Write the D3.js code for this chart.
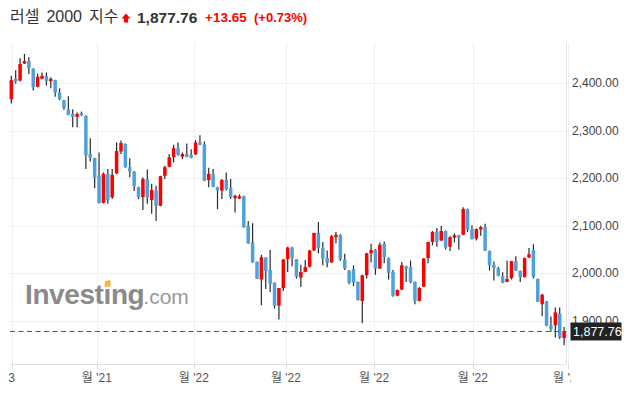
<!DOCTYPE html>
<html>
<head>
<meta charset="utf-8">
<script src="https://cdn.jsdelivr.net/npm/d3@7"></script>
<style>
  body { margin: 0; background: #fff; }
  svg text { font-family: "Liberation Sans", Arial, "Noto Sans CJK KR", sans-serif; }
</style>
</head>
<body>
<script>
// Russell 2000, daily candles
var opens  = [2366,2409,2405,2441,2446,2430,2392,2409,2415,2404,2406,2380,2364,2345,2335,2329,2337,2331,2251,2242,
              2205,2148,2209,2160,2210,2256,2272,2223,2214,2181,2160,2198,2154,2174,2142,2205,2224,2244,2263,2245,
              2251,2249,2250,2275,2271,2196,2208,2181,2174,2196,2179,2158,2157,2162,2100,2065,2024,1987,2033,2007,
              1980,1932,1969,2030,2054,2030,1991,2003,2014,2048,2085,2053,2032,2023,2076,2081,2029,2005,2009,1982,
              1942,1996,2042,2049,2010,2062,2032,2003,1953,1966,2015,2013,1982,1942,1972,2032,2066,2087,2069,2089,
              2056,2075,2080,2081,2135,2093,2073,2092,2097,2047,2018,2011,1994,1982,1990,2026,2005,1992,2033,2049,
              1988,1935,1941,1891,1891,1915,1864];
var highs  = [2415,2427,2452,2461,2454,2431,2420,2422,2422,2412,2407,2389,2365,2372,2345,2338,2340,2332,2284,2243,
              2254,2212,2219,2219,2275,2279,2273,2242,2215,2182,2202,2218,2188,2184,2205,2226,2251,2270,2275,2254,
              2273,2261,2280,2290,2277,2222,2219,2182,2198,2212,2198,2165,2166,2163,2110,2105,2025,2039,2034,2049,
              1981,1969,2030,2056,2056,2030,2018,2028,2049,2085,2108,2066,2048,2081,2087,2082,2041,2007,2017,1983,
              1997,2043,2062,2051,2065,2067,2033,2007,1966,2024,2016,2027,1983,1971,2032,2066,2089,2095,2100,2090,
              2078,2084,2081,2139,2136,2101,2094,2100,2104,2048,2025,2014,2002,2027,2026,2036,2006,2033,2053,2061,
              1989,1957,1942,1909,1928,1928,1887];
var lows   = [2357,2399,2403,2440,2419,2384,2391,2408,2395,2389,2371,2364,2344,2332,2307,2307,2331,2219,2235,2179,
              2147,2147,2146,2156,2209,2251,2222,2202,2173,2156,2133,2146,2125,2110,2141,2198,2223,2233,2247,2240,
              2244,2242,2249,2269,2194,2181,2181,2135,2156,2174,2156,2128,2156,2096,2062,2022,1988,1933,1967,1961,
              1926,1903,1963,2003,2015,1989,1971,2002,2012,2047,2042,2017,2013,2022,2063,2026,2007,1977,1973,1943,
              1895,1989,2023,1997,2009,2021,1987,1951,1952,1965,1982,1979,1935,1941,1971,2021,2059,2056,2068,2050,
              2047,2065,2050,2080,2087,2071,2069,2079,2047,2006,1985,1994,1979,1981,1987,2005,1982,1991,2032,1989,
              1940,1910,1889,1877,1865,1862,1849];
var closes = [2406,2403,2440,2446,2431,2392,2413,2415,2404,2409,2380,2366,2347,2333,2329,2335,2332,2248,2243,2201,
              2148,2209,2154,2207,2257,2274,2223,2214,2183,2160,2198,2160,2175,2142,2204,2223,2244,2263,2249,2251,
              2245,2243,2275,2270,2195,2209,2182,2174,2196,2177,2160,2163,2162,2097,2063,2023,1989,2034,2005,1978,
              1932,1969,2029,2054,2032,1993,2003,2013,2048,2085,2053,2031,2022,2078,2081,2029,2010,1980,1980,1944,
              1996,2042,2049,2010,2060,2034,2001,1953,1965,2017,2010,1981,1942,1969,2031,2066,2087,2066,2089,2054,
              2076,2080,2075,2135,2092,2072,2093,2097,2048,2017,2011,1995,1981,1988,2026,2006,1992,2032,2040,1993,
              1940,1955,1890,1883,1918,1865,1877.76];

var priceTicks = [1900, 2000, 2100, 2200, 2300, 2400];
var timeTicks  = [0.05, 19.5, 41.6, 62.6, 82.7, 105.2, 126.9];   // candle index of each month line
var timeLabels = ["3", "월 '21", "월 '22", "월 '22", "월 '22", "월 '22", "월 '22"];

var lastPrice = 1877.76;
var change = "+13.65";
var changePct = "(+0.73%)";

var upColor = "#ff0000", downColor = "#4fa1db";

var width = 632, height = 396;
var plot = {left: 10, right: 566.5, top: 43, bottom: 364};

var svg = d3.select("body").append("svg")
  .attr("width", width)
  .attr("height", height);

svg.append("rect").attr("width", width).attr("height", height).attr("fill", "#fff");

var x = d3.scaleLinear().domain([0, closes.length - 1]).range([11.3, 564.1]);
var y = d3.scaleLinear().domain([1900, 2400]).range([320.9, 83]);

// --- header
var head = svg.append("g");
head.append("text").attr("x", 10).attr("y", 22)
  .attr("font-size", 16).attr("fill", "#333")
  .attr("word-spacing", 2.5)
  .text("러셀 2000 지수");
head.append("path")
  .attr("d", "M126,13.5 L130.5,18.5 L128,18.5 L128,22.5 L124,22.5 L124,18.5 L121.5,18.5 Z")
  .attr("fill", upColor);
head.append("text").attr("x", 137).attr("y", 22.5)
  .attr("font-size", 15.5).attr("font-weight", "bold").attr("fill", "#333")
  .text(d3.format(",.2f")(lastPrice));
head.append("text").attr("x", 205).attr("y", 22)
  .attr("font-size", 13.5).attr("font-weight", "bold").attr("fill", upColor)
  .text(change);
head.append("text").attr("x", 254).attr("y", 22)
  .attr("font-size", 13).attr("font-weight", "bold").attr("fill", upColor)
  .text(changePct);

// --- grid
svg.append("g").selectAll("line")
  .data(priceTicks)
  .enter().append("line")
  .attr("x1", plot.left).attr("x2", plot.right + 4)
  .attr("y1", d => Math.round(y(d)) + 0.5).attr("y2", d => Math.round(y(d)) + 0.5)
  .attr("stroke", "#f1f1f3");

svg.append("g").selectAll("line")
  .data(timeTicks)
  .enter().append("line")
  .attr("x1", d => Math.round(x(d)) + 0.5).attr("x2", d => Math.round(x(d)) + 0.5)
  .attr("y1", plot.top).attr("y2", plot.bottom + 5)
  .attr("stroke", "#f1f1f3");

// --- watermark
var wm = svg.append("g");
var inv = wm.append("text").attr("x", 25).attr("y", 303.5)
  .attr("font-size", 28).attr("font-weight", "bold").attr("fill", "#8a8a8a")
  .attr("letter-spacing", -0.4)
  .text("Investıng");
var invW = inv.node().getComputedTextLength();
wm.append("text").attr("x", 25 + invW - 1).attr("y", 303.5)
  .attr("font-size", 21).attr("fill", "#9a9a9a")
  .text(".com");
var dotX = 25 + inv.node().getSubStringLength(0, 6);
wm.append("path")
  .attr("d", "M" + (dotX + 1.5) + ",281 L" + (dotX + 7) + ",280 L" + (dotX + 7) + ",286.5 L" + (dotX + 1) + ",287 Z")
  .attr("fill", "#f8b640");

// --- axes lines
svg.append("line")
  .attr("x1", plot.right).attr("x2", plot.right)
  .attr("y1", plot.top).attr("y2", plot.bottom)
  .attr("stroke", "#e1e1e8");
svg.append("line")
  .attr("x1", plot.left).attr("x2", plot.right)
  .attr("y1", plot.bottom + 0.5).attr("y2", plot.bottom + 0.5)
  .attr("stroke", "#e1e1e8");

// --- candles
var idx = d3.range(closes.length);
var bodyW = 3.5;
var candles = svg.append("g");

candles.selectAll("line.wick")
  .data(idx)
  .enter().append("line")
  .attr("class", "wick")
  .attr("x1", i => x(i)).attr("x2", i => x(i))
  .attr("y1", i => y(highs[i])).attr("y2", i => y(lows[i]))
  .attr("stroke", "#262a2e").attr("stroke-width", 1.2);

candles.selectAll("rect.body")
  .data(idx)
  .enter().append("rect")
  .attr("class", "body")
  .attr("x", i => x(i) - bodyW / 2)
  .attr("width", bodyW)
  .attr("y", i => y(Math.max(opens[i], closes[i])))
  .attr("height", i => Math.max(1.5, Math.abs(y(opens[i]) - y(closes[i]))))
  .attr("fill", i => closes[i] >= opens[i] ? upColor : downColor);

// --- last price dashed line
svg.append("line")
  .attr("x1", plot.left).attr("x2", plot.right)
  .attr("y1", y(lastPrice)).attr("y2", y(lastPrice))
  .attr("stroke", "#555").attr("stroke-dasharray", "5,3.5");

// --- right axis labels (1,900.00 sits partly under the price box, as in the original)
svg.append("g").selectAll("text")
  .data(priceTicks)
  .enter().append("text")
  .attr("x", 572).attr("y", d => y(d) + 4)
  .attr("font-size", 12).attr("fill", "#444")
  .text(d => d3.format(",.2f")(d));

svg.append("rect")
  .attr("x", 570.5).attr("y", y(lastPrice) - 9)
  .attr("width", 51).attr("height", 18)
  .attr("fill", "#222");
svg.append("text")
  .attr("x", 573).attr("y", y(lastPrice) + 4.5)
  .attr("font-size", 12.5).attr("fill", "#fff")
  .text(d3.format(",.2f")(lastPrice));

// --- bottom axis
svg.append("defs").append("clipPath").attr("id", "xclip")
  .append("rect").attr("x", 0).attr("y", plot.bottom).attr("width", 571).attr("height", 40);

var xa = svg.append("g").attr("clip-path", "url(#xclip)");
xa.selectAll("line")
  .data(timeTicks)
  .enter().append("line")
  .attr("x1", d => Math.round(x(d)) + 0.5).attr("x2", d => Math.round(x(d)) + 0.5)
  .attr("y1", plot.bottom).attr("y2", plot.bottom + 5)
  .attr("stroke", "#d8d8de");
xa.selectAll("text")
  .data(timeTicks)
  .enter().append("text")
  .attr("x", d => x(d)).attr("y", 382)
  .attr("text-anchor", "middle")
  .attr("font-size", 12).attr("fill", "#555")
  .text((d, i) => timeLabels[i]);
</script>
</body>
</html>
